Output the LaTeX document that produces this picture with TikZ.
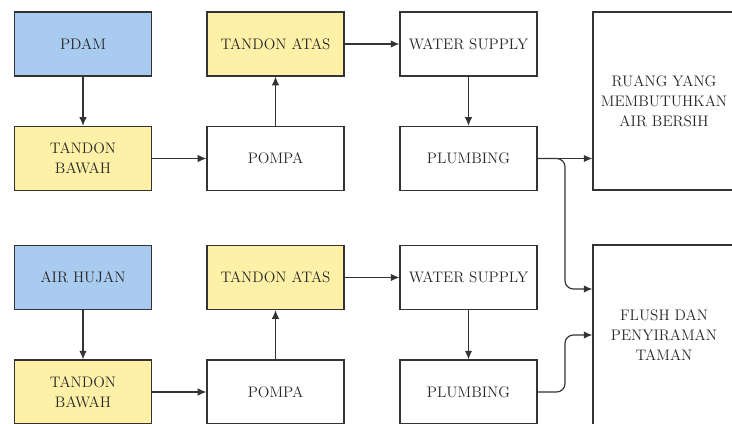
\documentclass[tikz,border=0pt]{standalone}
\usetikzlibrary{arrows.meta}
\definecolor{birumuda}{HTML}{A9CBF0}
\definecolor{kuningmuda}{HTML}{FFF0A8}
\tikzset{
  kotak/.style={draw=black!80, line width=1pt, minimum width=4.11cm, minimum height=1.92cm,
    align=center, inner sep=2pt, text=black!85, font=\rmfamily\fontsize{13}{17}\selectfont},
  sumber/.style={kotak, fill=birumuda},
  tandon/.style={kotak, fill=kuningmuda},
  ruang/.style={kotak, minimum width=4.26cm},
  alir/.style={line width=1pt, black!80, -{Latex[length=2.6mm,width=2.2mm]}},
}
\begin{document}
\begin{tikzpicture}
      \useasboundingbox (0,0) rectangle (21.96,12.69);
      \fill[white] (0,0) rectangle (21.96,12.69);
      % air bersih dari PDAM
      \node[sumber] (pdam) at (2.49,11.37) {PDAM};
      \node[tandon] (bawah1) at (2.49,7.935) {TANDON\\BAWAH};
      \node[kotak] (pompa1) at (8.265,7.935) {POMPA};
      \node[tandon] (atas1) at (8.265,11.37) {TANDON ATAS};
      \node[kotak] (supply1) at (14.055,11.37) {WATER SUPPLY};
      \node[kotak] (plumb1) at (14.055,7.935) {PLUMBING};
      \node[ruang, minimum height=5.34cm] (bersih) at (19.92,9.66) {RUANG YANG\\MEMBUTUHKAN\\AIR BERSIH};
      % air hujan
      \node[sumber] (hujan) at (2.49,4.365) {AIR HUJAN};
      \node[tandon] (bawah2) at (2.49,0.93) {TANDON\\BAWAH};
      \node[kotak] (pompa2) at (8.265,0.93) {POMPA};
      \node[tandon] (atas2) at (8.265,4.365) {TANDON ATAS};
      \node[kotak] (supply2) at (14.055,4.365) {WATER SUPPLY};
      \node[kotak] (plumb2) at (14.055,0.93) {PLUMBING};
      \node[ruang, minimum height=5.4cm] (flush) at (19.92,2.64) {FLUSH DAN\\PENYIRAMAN\\TAMAN};
      \coordinate (cabang) at (16.95,0);
      \coordinate (masuk) at ([yshift=1.38cm]flush.west);
      % alur
      \draw[alir] (pdam) -- (bawah1);
      \draw[alir] (bawah1) -- (pompa1);
      \draw[alir] (pompa1) -- (atas1);
      \draw[alir] (atas1) -- (supply1);
      \draw[alir] (supply1) -- (plumb1);
      \draw[alir] (plumb1.east) -- (plumb1.east -| bersih.west);
      \draw[alir,rounded corners=0.25cm] (plumb1.east) -- (cabang |- plumb1.east) -- (cabang |- masuk) -- (masuk);
      \draw[alir] (hujan) -- (bawah2);
      \draw[alir] (bawah2) -- (pompa2);
      \draw[alir] (pompa2) -- (atas2);
      \draw[alir] (atas2) -- (supply2);
      \draw[alir] (supply2) -- (plumb2);
      \draw[alir,rounded corners=0.25cm] (plumb2.east) -- (cabang |- plumb2.east) -- (cabang |- flush.west) -- (flush.west);
\end{tikzpicture}
\end{document}
